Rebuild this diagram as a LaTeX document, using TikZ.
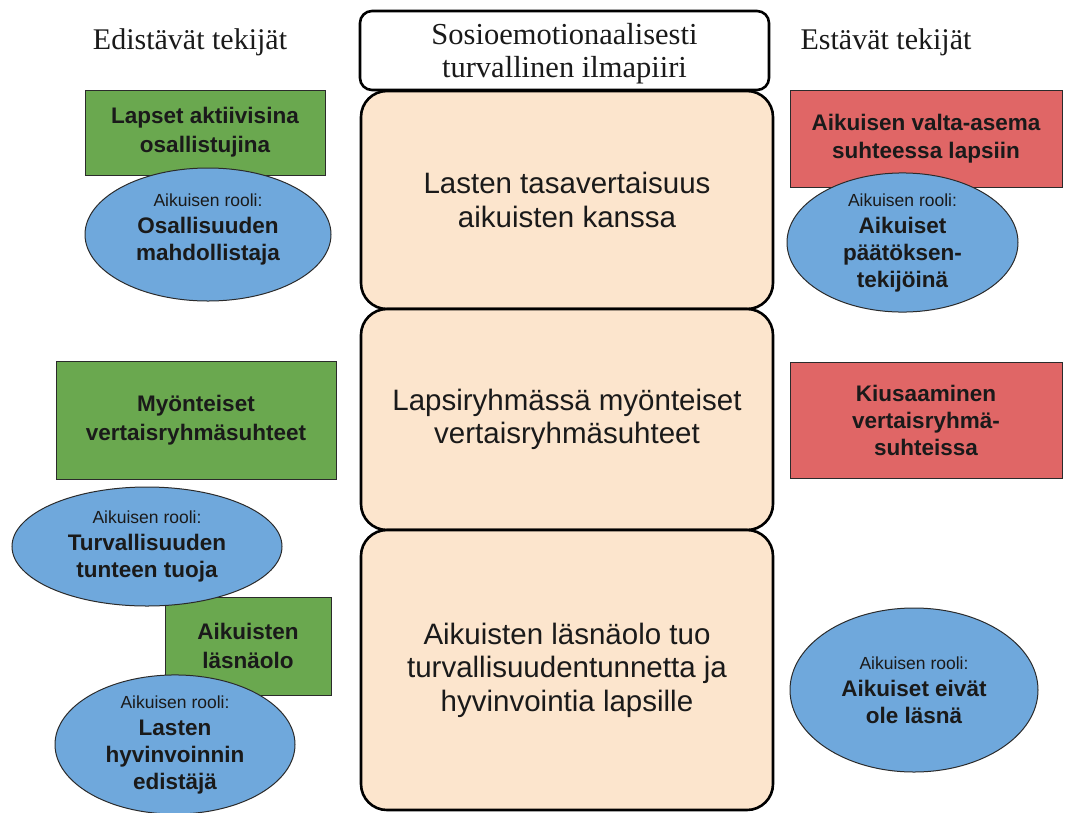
\documentclass[tikz,border=0pt]{standalone}
\usepackage{fontspec}
\setmainfont{Liberation Serif}
\setsansfont{Liberation Sans}
\usetikzlibrary{shapes.geometric}
\definecolor{gfill}{HTML}{6AA84F}
\definecolor{rfill}{HTML}{E06666}
\definecolor{bfill}{HTML}{6FA8DC}
\definecolor{ofill}{HTML}{FCE5CD}
\definecolor{edgecol}{HTML}{2B2B2B}
\definecolor{txtcol}{HTML}{1A1A1A}
\newcommand{\rolehead}{{\mdseries\fontsize{17.5}{20}\selectfont Aikuisen rooli:}}
\tikzset{
  hdr/.style={font=\fontsize{30}{34}\selectfont, inner sep=0, text=txtcol},
  topbox/.style={draw=black, line width=2.6pt, fill=white, rounded corners=12pt, align=center,
    font=\fontsize{30.5}{33}\selectfont, inner sep=0, text=txtcol},
  midbox/.style={draw=black, line width=2.6pt, fill=ofill, rounded corners=26pt, align=center,
    font=\sffamily\fontsize{29.5}{33.5}\selectfont, inner sep=0, text=txtcol},
  gbox/.style={draw=edgecol, line width=1pt, fill=gfill, align=center,
    font=\sffamily\bfseries\fontsize{22.5}{29}\selectfont, inner sep=0, text=txtcol},
  rbox/.style={draw=edgecol, line width=1pt, fill=rfill, align=center,
    font=\sffamily\bfseries\fontsize{22.5}{28}\selectfont, inner sep=0, text=txtcol},
  role/.style={ellipse, draw=edgecol, line width=1pt, fill=bfill, align=center, inner sep=0,
    font=\sffamily\bfseries\fontsize{22.5}{27}\selectfont, text=txtcol},
}
\begin{document}
\begin{tikzpicture}[x=1pt,y=-1pt]
\useasboundingbox (0,0) rectangle (1077,812);

% headers
\node[hdr] (hl) at (190,42) {Edistävät tekijät};
\node[hdr] (hr) at (886,42) {Estävät tekijät};

% centre column
\node[topbox, minimum width=409pt, minimum height=79pt, text depth=-3pt] (top) at (564.5,50.5)
  {Sosioemotionaalisesti\\turvallinen ilmapiiri};
\node[midbox, minimum width=412pt, minimum height=218pt] (m1) at (567,200)
  {Lasten tasavertaisuus\\aikuisten kanssa};
\node[midbox, minimum width=412pt, minimum height=221pt] (m2) at (567,419.5)
  {Lapsiryhmässä myönteiset\\vertaisryhmäsuhteet};
\node[midbox, minimum width=412pt, minimum height=280pt] (m3) at (567,670)
  {Aikuisten läsnäolo tuo\\turvallisuudentunnetta ja\\hyvinvointia lapsille};

% left column
\node[gbox, minimum width=240pt, minimum height=85pt] (g1) at (205,132.5)
  {Lapset aktiivisina\\osallistujina};
\node[role, minimum width=246pt, minimum height=133pt, text depth=14pt] (e1) at (208,234.5)
  {\rolehead\\Osallisuuden\\mahdollistaja};
\node[gbox, minimum width=280pt, minimum height=118pt] (g2) at (196,420)
  {Myönteiset\\vertaisryhmäsuhteet};
\node[gbox, minimum width=166pt, minimum height=98pt] (g3) at (248,646)
  {Aikuisten\\läsnäolo};
\node[role, minimum width=270pt, minimum height=119pt] (e2) at (147,546.5)
  {\rolehead\\Turvallisuuden\\tunteen tuoja};
\node[role, minimum width=240pt, minimum height=135pt] (e3) at (175,744.5)
  {\rolehead\\Lasten\\hyvinvoinnin\\edistäjä};

% right column
\node[rbox, minimum width=272pt, minimum height=97pt] (r1) at (926,138.5)
  {Aikuisen valta-asema\\suhteessa lapsiin};
\node[role, minimum width=231pt, minimum height=135pt] (e4) at (902.5,242.5)
  {\rolehead\\Aikuiset\\päätöksen-\\tekijöinä};
\node[rbox, minimum width=272pt, minimum height=116pt, font=\sffamily\bfseries\fontsize{22.5}{27}\selectfont] (r2) at (926,420)
  {Kiusaaminen\\vertaisryhmä-\\suhteissa};
\node[role, minimum width=248pt, minimum height=164pt] (e5) at (914,690)
  {\rolehead\\Aikuiset eivät\\ole läsnä};
\end{tikzpicture}
\end{document}
